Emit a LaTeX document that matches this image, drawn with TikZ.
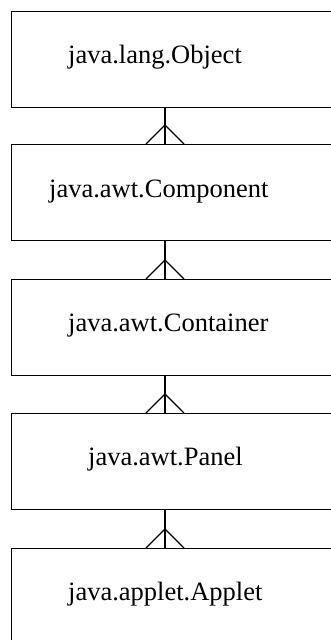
\documentclass[tikz,border=0pt]{standalone}
\usepackage{fontspec}
\setmainfont{Liberation Serif}
\begin{document}
\begin{tikzpicture}[x=1pt,y=-1pt,
  classbox/.style={draw=black,line width=1.4pt,minimum width=330pt,minimum height=96pt,inner sep=0pt,anchor=north west},
  classname/.style={anchor=base west,inner sep=0pt,font=\fontsize{26.5}{30}\selectfont},
  link/.style={draw=black,line width=1.4pt}]
\useasboundingbox (0,0) rectangle (331,640);
\clip (0,0) rectangle (331,640);
\node[classbox] (b1) at (11,11) {};
\node[classbox] (b2) at (11,144) {};
\node[classbox] (b3) at (11,279) {};
\node[classbox] (b4) at (11,413) {};
\node[classbox] (b5) at (11,548) {};
\node[classname] (t1) at (68,63) {java.lang.Object};
\node[classname] (t2) at (49,197) {java.awt.Component};
\node[classname] (t3) at (68,331) {java.awt.Container};
\node[classname] (t4) at (88,465) {java.awt.Panel};
\node[classname] (t5) at (68,600) {java.applet.Applet};
\coordinate (c) at (165,0);
\foreach \u/\l in {b1/b2,b2/b3,b3/b4,b4/b5}{
  \draw[link] (\u.south -| c) -- (\l.north -| c);
  \draw[link,line join=miter] ([xshift=-19pt]\l.north -| c) -- ([yshift=19pt]\l.north -| c) -- ([xshift=19pt]\l.north -| c);
}
\end{tikzpicture}
\end{document}
